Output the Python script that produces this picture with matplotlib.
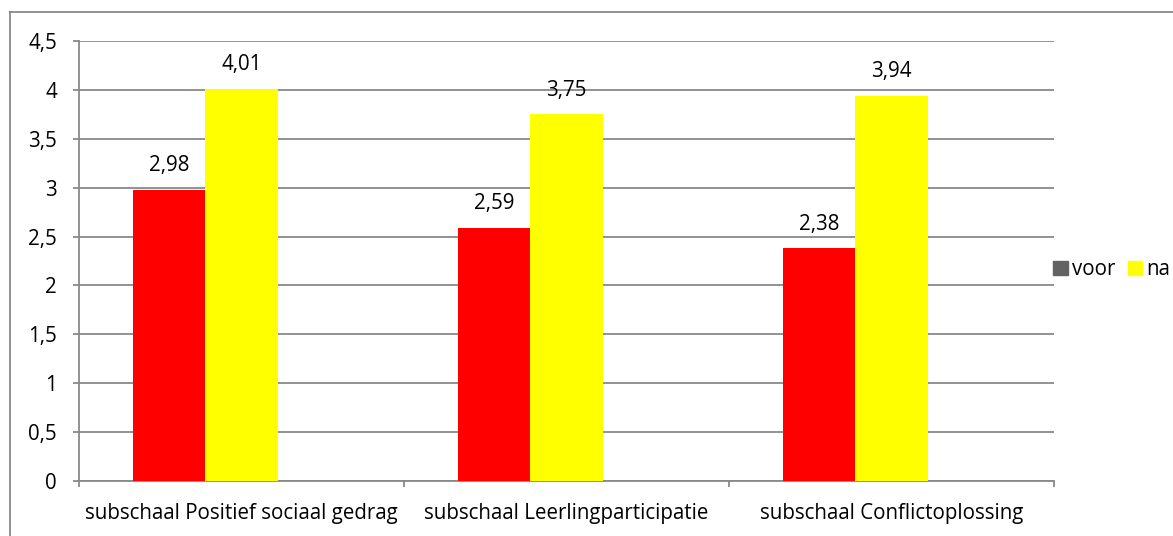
import numpy as np
import matplotlib.pyplot as plt
from matplotlib.patches import Patch
from matplotlib.lines import Line2D

# Gegevens
categorieen = ["subschaal Positief sociaal gedrag", "subschaal Leerlingparticipatie",
               "subschaal Conflictoplossing"]
voor = [2.98, 2.59, 2.38]
na = [4.01, 3.75, 3.94]
yticks = [0, 0.5, 1, 1.5, 2, 2.5, 3, 3.5, 4, 4.5]

plt.rcParams['font.family'] = ['Open Sans', 'DejaVu Sans']
grijs = '#898989'
fs = 14.8

fig = plt.figure(figsize=(11.73, 5.36), dpi=100)
ax = fig.add_axes([0.0673, 0.1026, 0.8312, 0.8209])

x = np.arange(len(categorieen))
w = 0.222
# Excel laat ruimte voor een derde (lege) reeks, dus de paren staan links van het midden
b1 = ax.bar(x - w, voor, w, color='#FF0000', zorder=3)
b2 = ax.bar(x, na, w, color='#FFFF00', zorder=3)

def fmt(v):
    return f"{v:.2f}".replace('.', ',')

for bars, vals in [(b1, voor), (b2, na)]:
    for r, v in zip(bars, vals):
        ax.annotate(fmt(v), (r.get_x() + r.get_width() / 2, v), xytext=(0, 13.5),
                    textcoords='offset points', ha='center', va='baseline', fontsize=fs)

ax.set_xlim(-0.5, len(categorieen) - 0.5)
ax.set_ylim(0, 4.5)
ax.set_yticks(yticks)
ax.set_yticklabels([f"{t:g}".replace('.', ',') for t in yticks], fontsize=fs)
ax.set_xticks(x)
ax.set_xticklabels(categorieen, fontsize=fs)
ax.set_xticks(np.arange(len(categorieen) + 1) - 0.5, minor=True)

ax.tick_params(axis='y', length=4.3, color=grijs, width=1.3, pad=11.5)
ax.tick_params(axis='x', which='major', length=0, pad=15.5)
ax.tick_params(axis='x', which='minor', length=4.3, color=grijs, width=1.3)

ax.grid(axis='y', color=grijs, linewidth=1.3, zorder=0)
for s in ['top', 'right']:
    ax.spines[s].set_visible(False)
for s in ['left', 'bottom']:
    ax.spines[s].set_color(grijs)
    ax.spines[s].set_linewidth(1.3)

handles = [Patch(color='#636363', label='voor'), Patch(color='#FFFF00', label='na')]
fig.legend(handles=handles, loc='center left', bbox_to_anchor=(0.898, 0.497), ncol=2,
           frameon=False, fontsize=fs, handlelength=0.7, handleheight=0.7,
           handletextpad=0.2, columnspacing=0.6, borderpad=0, borderaxespad=0)

# rand om de grafiek
fig.add_artist(Line2D([0.0085, 0.0085], [0, 0.978], color=grijs, linewidth=1.3))
fig.add_artist(Line2D([0.0085, 1], [0.978, 0.978], color=grijs, linewidth=1.3))

fig.savefig('out.png', dpi=100)
